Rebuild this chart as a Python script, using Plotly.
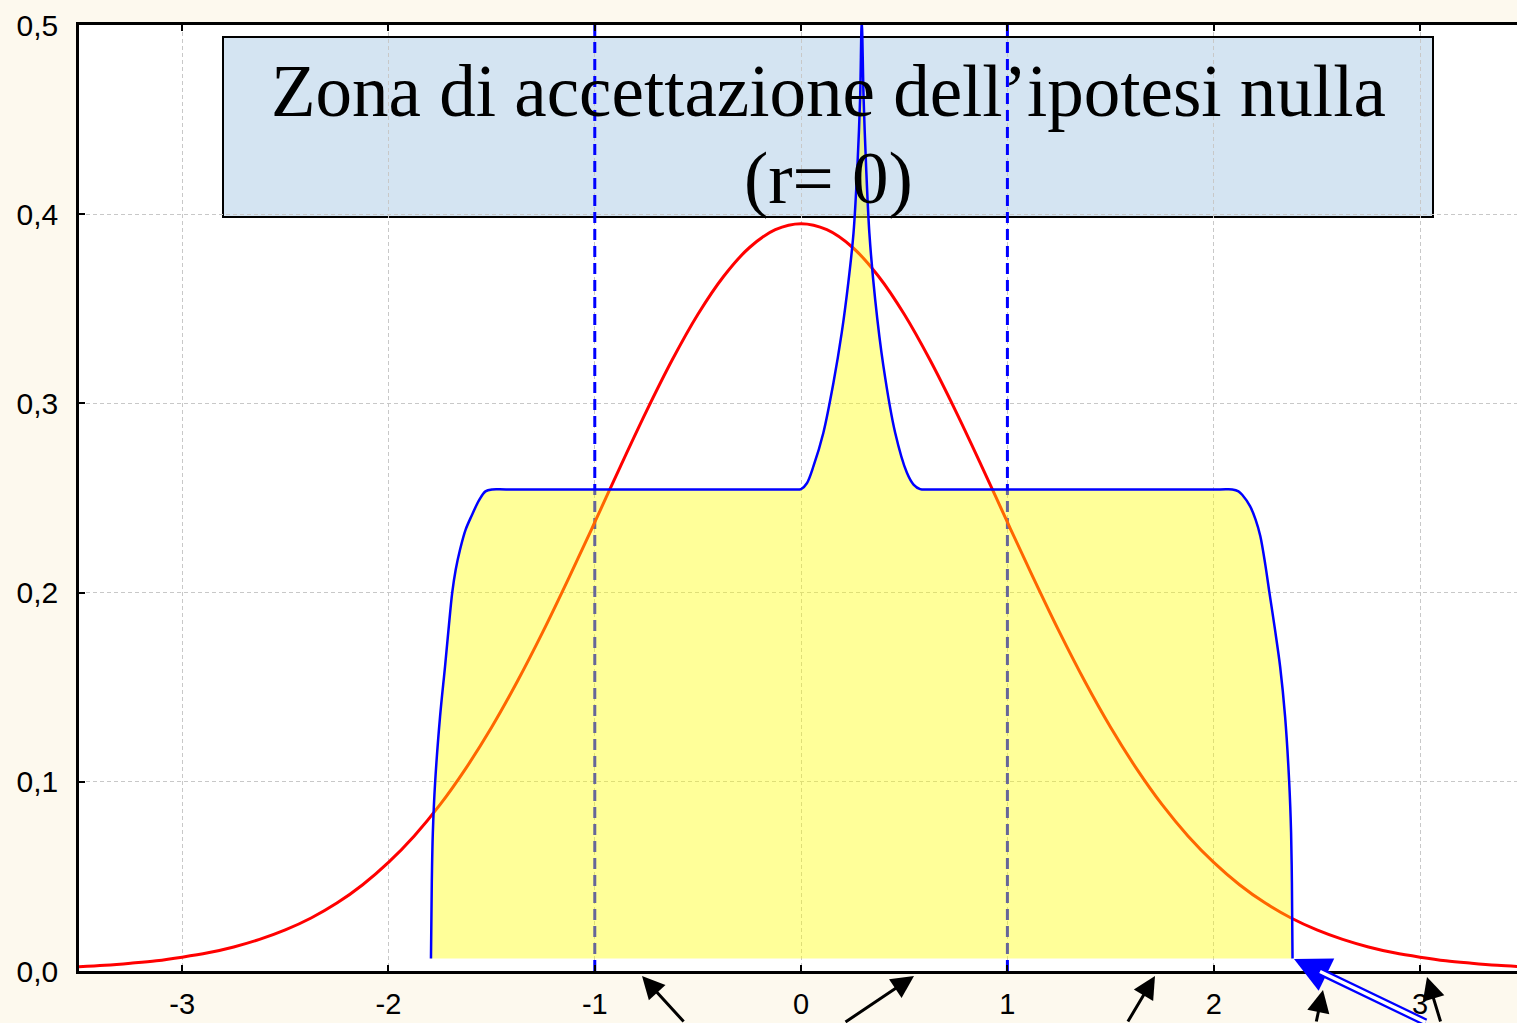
import plotly.graph_objects as go

# ---- axis ticks -------------------------------------------------------------
x_ticks = [-3, -2, -1, 0, 1, 2, 3]
x_tick_labels = ["-3", "-2", "-1", "0", "1", "2", "3"]
y_ticks = [0.0, 0.1, 0.2, 0.3, 0.4, 0.5]
y_tick_labels = ["0,0", "0,1", "0,2", "0,3", "0,4", "0,5"]

# ---- theoretical density of r under H0 (red curve) ---------------------------
density_x = [-3.5, -3.375, -3.25, -3.125, -3.0, -2.875, -2.75, -2.625, -2.5,
             -2.375, -2.25, -2.125, -2.0, -1.875, -1.75, -1.625, -1.5, -1.375,
             -1.25, -1.125, -1.0, -0.875, -0.75, -0.625, -0.5, -0.375, -0.25,
             -0.125, 0.0, 0.125, 0.25, 0.375, 0.5, 0.625, 0.75, 0.875, 1.0,
             1.125, 1.25, 1.375, 1.5, 1.625, 1.75, 1.875, 2.0, 2.125, 2.25,
             2.375, 2.5, 2.625, 2.75, 2.875, 3.0, 3.125, 3.25, 3.375, 3.5]
density_y = [0.0022, 0.0030, 0.0041, 0.0054, 0.0073, 0.0096, 0.0127, 0.0167,
             0.0217, 0.0280, 0.0359, 0.0456, 0.0574, 0.0714, 0.0879, 0.1071,
             0.1288, 0.1531, 0.1796, 0.2079, 0.2372, 0.2669, 0.2958, 0.3229,
             0.3471, 0.3672, 0.3824, 0.3918, 0.3950, 0.3918, 0.3824, 0.3672,
             0.3471, 0.3229, 0.2958, 0.2669, 0.2372, 0.2079, 0.1796, 0.1531,
             0.1288, 0.1071, 0.0879, 0.0714, 0.0574, 0.0456, 0.0359, 0.0280,
             0.0217, 0.0167, 0.0127, 0.0096, 0.0073, 0.0054, 0.0041, 0.0030,
             0.0022]

# ---- limits of the acceptance zone (dashed blue) -----------------------------
critical_x = [-1.0, 1.0]

# ---- observed distribution (blue outline, yellow area) -----------------------
sample_x = [-1.794, -1.790, -1.785, -1.774, -1.750, -1.726, -1.709, -1.691,
            -1.674, -1.653, -1.626, -1.598, -1.560, -1.530, -1.497, -1.43,
            -0.15, -0.04, 0.0, 0.028, 0.060, 0.108, 0.157, 0.197, 0.229,
            0.254, 0.273, 0.286, 0.294, 0.303, 0.315, 0.331, 0.359, 0.399,
            0.456, 0.513, 0.545, 0.577, 0.62, 0.75, 2.03, 2.09, 2.12, 2.138,
            2.176, 2.203, 2.226, 2.250, 2.270, 2.297, 2.322, 2.346, 2.366,
            2.375, 2.379, 2.382]
sample_y = [0.0066, 0.0466, 0.0730, 0.0995, 0.1344, 0.1608, 0.1804, 0.2000,
            0.2122, 0.2228, 0.2333, 0.2404, 0.2490, 0.2535, 0.2545, 0.2545,
            0.2545, 0.2545, 0.2547, 0.2578, 0.2668, 0.2845, 0.3110, 0.3374,
            0.3640, 0.3900, 0.4255, 0.4610, 0.5020, 0.4610, 0.4255, 0.3900,
            0.3550, 0.3197, 0.2845, 0.2633, 0.2571, 0.2547, 0.2545, 0.2545,
            0.2545, 0.2545, 0.2535, 0.2517, 0.2457, 0.2386, 0.2298, 0.2148,
            0.2000, 0.1804, 0.1608, 0.1344, 0.0995, 0.0730, 0.0466, 0.0066]
sample_base = 0.0066

title_lines = ["Zona di accettazione dell\u2019ipotesi nulla", "(r= 0)"]

# ---- figure geometry -------------------------------------------------------
W, H = 1517, 1023
ML, MR, MT, MB = 79, 0, 25, 52


def px(x):
    return (x - ML) / (W - ML - MR)


def py(y):
    return (H - MB - y) / (H - MT - MB)


fig = go.Figure()

# dashed acceptance limits
for cx in critical_x:
    fig.add_trace(go.Scatter(
        x=[cx, cx], y=[y_ticks[0], y_ticks[-1]], mode="lines",
        line=dict(color="#0000FF", width=3, dash="11px,6px"),
        hoverinfo="skip", showlegend=False))

# theoretical density
fig.add_trace(go.Scatter(
    x=density_x, y=density_y, mode="lines", line_shape="spline",
    line=dict(color="#FF0000", width=3, smoothing=1.0),
    hoverinfo="skip", showlegend=False))

# base of the shaded area
fig.add_trace(go.Scatter(
    x=[sample_x[0], sample_x[-1]], y=[sample_base, sample_base],
    mode="lines", line=dict(width=0, color="rgba(0,0,0,0)"),
    hoverinfo="skip", showlegend=False))

# observed distribution, filled down to the base
fig.add_trace(go.Scatter(
    x=sample_x, y=sample_y, mode="lines", line_shape="spline",
    line=dict(color="#0000FF", width=2.5, smoothing=0.9),
    fill="tonexty", fillcolor="rgba(255,255,0,0.4)",
    hoverinfo="skip", showlegend=False))

# title box
fig.add_shape(type="rect", xref="paper", yref="paper",
              x0=px(223), x1=px(1433), y0=py(217), y1=py(37),
              fillcolor="#D4E4F2", line=dict(color="black", width=2),
              layer="below")

fig.add_annotation(text=title_lines[0], xref="paper", yref="paper",
                   x=px(828), y=py(91), xanchor="center", yanchor="middle",
                   showarrow=False,
                   font=dict(family="Liberation Serif", size=73, color="black"))
fig.add_annotation(text=title_lines[1], xref="paper", yref="paper",
                   x=px(828), y=py(178), xanchor="center", yanchor="middle",
                   showarrow=False,
                   font=dict(family="Liberation Serif", size=73, color="black"))

# black pointer arrows below the axis (tip, tail) in pixels
black_arrows = [((642, 976), (685, 1023)),
                ((914, 976), (844, 1023)),
                ((1155, 976), (1127, 1023)),
                ((1323, 990), (1316, 1023)),
                ((1427, 977), (1441, 1023))]
for (tx, ty), (sx, sy) in black_arrows:
    fig.add_annotation(text="", xref="paper", yref="paper",
                       x=px(tx), y=py(ty), ax=sx - tx, ay=sy - ty,
                       showarrow=True, arrowhead=2, arrowsize=1.5,
                       arrowwidth=3, arrowcolor="black", standoff=0)

# blue double-line arrow pointing at the end of the shaded area
tip = (1294, 959)
tail = (1427, 1023)
fig.add_annotation(text="", xref="paper", yref="paper",
                   x=px(tip[0]), y=py(tip[1]), ax=tail[0] - tip[0], ay=tail[1] - tip[1],
                   showarrow=True, arrowhead=2, arrowsize=0.9, arrowwidth=8,
                   arrowcolor="#0000FF", standoff=0)
inner = (1320, 971.5)
fig.add_annotation(text="", xref="paper", yref="paper",
                   x=px(inner[0]), y=py(inner[1]),
                   ax=tail[0] - inner[0], ay=tail[1] - inner[1],
                   showarrow=True, arrowhead=0, arrowwidth=3.5,
                   arrowcolor="white", standoff=0)

fig.update_xaxes(
    range=[-3.5, 3.47], tickvals=x_ticks, ticktext=x_tick_labels,
    showline=True, linecolor="black", linewidth=2.5, mirror="ticks",
    ticks="inside", ticklen=6, tickwidth=2, tickcolor="black",
    showgrid=True, gridcolor="#C8C8C8", gridwidth=1, griddash="4px,3px",
    zeroline=False, ticklabelstandoff=5, automargin=False,
    tickfont=dict(family="Liberation Sans", size=29, color="black"))
fig.update_yaxes(
    range=[0, 0.5], tickvals=y_ticks, ticktext=y_tick_labels,
    showline=True, linecolor="black", linewidth=2.5, mirror=False,
    ticks="inside", ticklen=6, tickwidth=2, tickcolor="black",
    showgrid=True, gridcolor="#C8C8C8", gridwidth=1, griddash="4px,3px",
    zeroline=False, ticklabelstandoff=12, automargin=False,
    tickfont=dict(family="Liberation Sans", size=30, color="black"))

fig.update_layout(
    width=W, height=H,
    margin=dict(l=ML, r=MR, t=MT, b=MB, pad=0, autoexpand=False),
    paper_bgcolor="#FDF9EE", plot_bgcolor="white",
    showlegend=False)

fig.write_html("out.html", config={"displayModeBar": False})
